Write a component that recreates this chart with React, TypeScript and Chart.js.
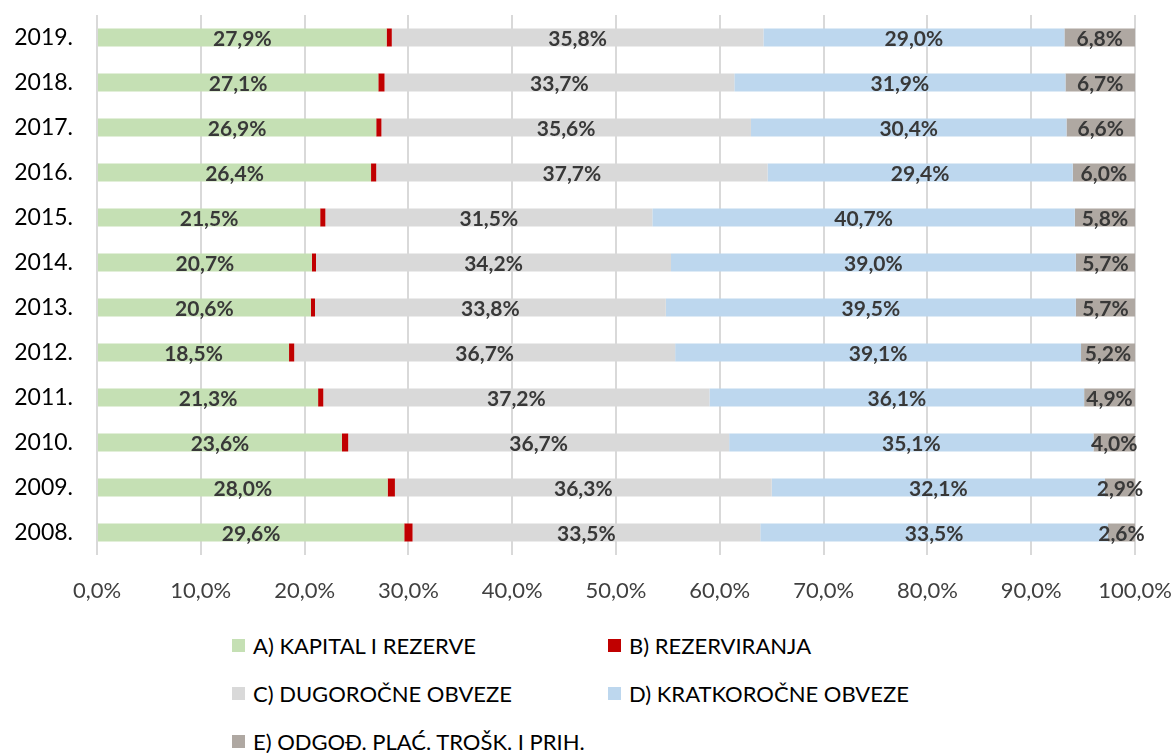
import React, { useEffect, useRef } from "react";
import { Chart, registerables } from "chart.js";

Chart.register(...registerables);

const years = ["2019.", "2018.", "2017.", "2016.", "2015.", "2014.", "2013.", "2012.", "2011.", "2010.", "2009.", "2008."];
const kapital = [27.9, 27.1, 26.9, 26.4, 21.5, 20.7, 20.6, 18.5, 21.3, 23.6, 28.0, 29.6];
const rezerviranja = [0.5, 0.6, 0.5, 0.5, 0.5, 0.4, 0.4, 0.5, 0.5, 0.6, 0.7, 0.8];
const dugorocne = [35.8, 33.7, 35.6, 37.7, 31.5, 34.2, 33.8, 36.7, 37.2, 36.7, 36.3, 33.5];
const kratkorocne = [29.0, 31.9, 30.4, 29.4, 40.7, 39.0, 39.5, 39.1, 36.1, 35.1, 32.1, 33.5];
const odgodeni = [6.8, 6.7, 6.6, 6.0, 5.8, 5.7, 5.7, 5.2, 4.9, 4.0, 2.9, 2.6];
const xTicks = [0, 10, 20, 30, 40, 50, 60, 70, 80, 90, 100];

const seriesNames = [
  "A) KAPITAL I REZERVE",
  "B) REZERVIRANJA",
  "C) DUGOROČNE OBVEZE",
  "D) KRATKOROČNE OBVEZE",
  "E) ODGOĐ. PLAĆ. TROŠK. I PRIH.",
];
const seriesColors = ["#C5E0B4", "#C00000", "#D9D9D9", "#BDD7EE", "#AFA8A2"];
const seriesData = [kapital, rezerviranja, dugorocne, kratkorocne, odgodeni];
const labelled = [true, false, true, true, true];

const FONT = "Lato, 'Open Sans', sans-serif";
const fmt = (v: number) => v.toFixed(1).replace(".", ",") + "%";

const labelPlugin = {
  id: "segLabels",
  afterDatasetsDraw(chart: any) {
    const ctx = chart.ctx;
    ctx.save();
    ctx.font = `bold 21px ${FONT}`;
    ctx.fillStyle = "#383838";
    ctx.textAlign = "center";
    ctx.textBaseline = "middle";
    chart.data.datasets.forEach((ds: any, di: number) => {
      if (!labelled[di]) return;
      const meta = chart.getDatasetMeta(di);
      meta.data.forEach((el: any, i: number) => {
        const cx = (el.x + el.base) / 2;
        ctx.fillText(fmt(ds.data[i]), cx, el.y + 1.5);
      });
    });
    ctx.restore();
  },
};

export default function App() {
  const ref = useRef<HTMLCanvasElement>(null);
  useEffect(() => {
    if (!ref.current) return;
    const chart = new Chart(ref.current, {
      type: "bar",
      data: {
        labels: years,
        datasets: seriesNames.map((name, i) => ({
          label: name,
          data: seriesData[i],
          backgroundColor: seriesColors[i],
          borderWidth: 0,
          barPercentage: 0.4,
          categoryPercentage: 1,
        })),
      },
      options: {
        indexAxis: "y",
        animation: false,
        responsive: false,
        maintainAspectRatio: false,
        layout: { padding: { top: 15, right: 41, bottom: 0, left: 0 } },
        plugins: { legend: { display: false }, tooltip: { enabled: false } },
        scales: {
          x: {
            stacked: true,
            min: 0,
            max: 100,
            afterBuildTicks: (s: any) => {
              s.ticks = xTicks.map((v) => ({ value: v }));
            },
            afterFit: (s: any) => {
              s.height = 65;
              s.paddingLeft = 0;
              s.paddingRight = 0;
            },
            grid: { color: "#D9D9D9", lineWidth: 2, drawTicks: false },
            border: { display: false },
            ticks: {
              padding: 23,
              color: "#404040",
              font: { family: FONT, size: 22 },
              callback: (v: any) => fmt(Number(v)),
              maxRotation: 0,
            },
          },
          y: {
            stacked: true,
            afterFit: (s: any) => {
              s.width = 97;
              s.paddingTop = 0;
              s.paddingBottom = 0;
            },
            grid: { display: false, drawTicks: false },
            border: { display: false },
            ticks: {
              padding: 24,
              color: "#000000",
              font: { family: FONT, size: 23 },
            },
          },
        },
      },
      plugins: [labelPlugin],
    } as any);
    return () => chart.destroy();
  }, []);

  const legendPos = [
    { left: 232, top: 645 },
    { left: 608, top: 645 },
    { left: 232, top: 693 },
    { left: 608, top: 693 },
    { left: 232, top: 741 },
  ];

  return (
    <div style={{ position: "absolute", left: 0, top: 0, width: 1176, height: 753, background: "#fff", overflow: "hidden" }}>
      <canvas ref={ref} width={1176} height={620} style={{ display: "block" }} />
      {seriesNames.map((name, i) => (
        <div
          key={name}
          style={{
            position: "absolute",
            left: legendPos[i].left,
            top: legendPos[i].top - 14,
            height: 28,
            display: "flex",
            alignItems: "center",
            fontFamily: FONT,
            fontSize: 22,
            color: "#000",
            whiteSpace: "nowrap",
          }}
        >
          <span style={{ display: "inline-block", width: 13, height: 13, background: seriesColors[i], marginRight: 8 }} />
          <span>{name}</span>
        </div>
      ))}
    </div>
  );
}
